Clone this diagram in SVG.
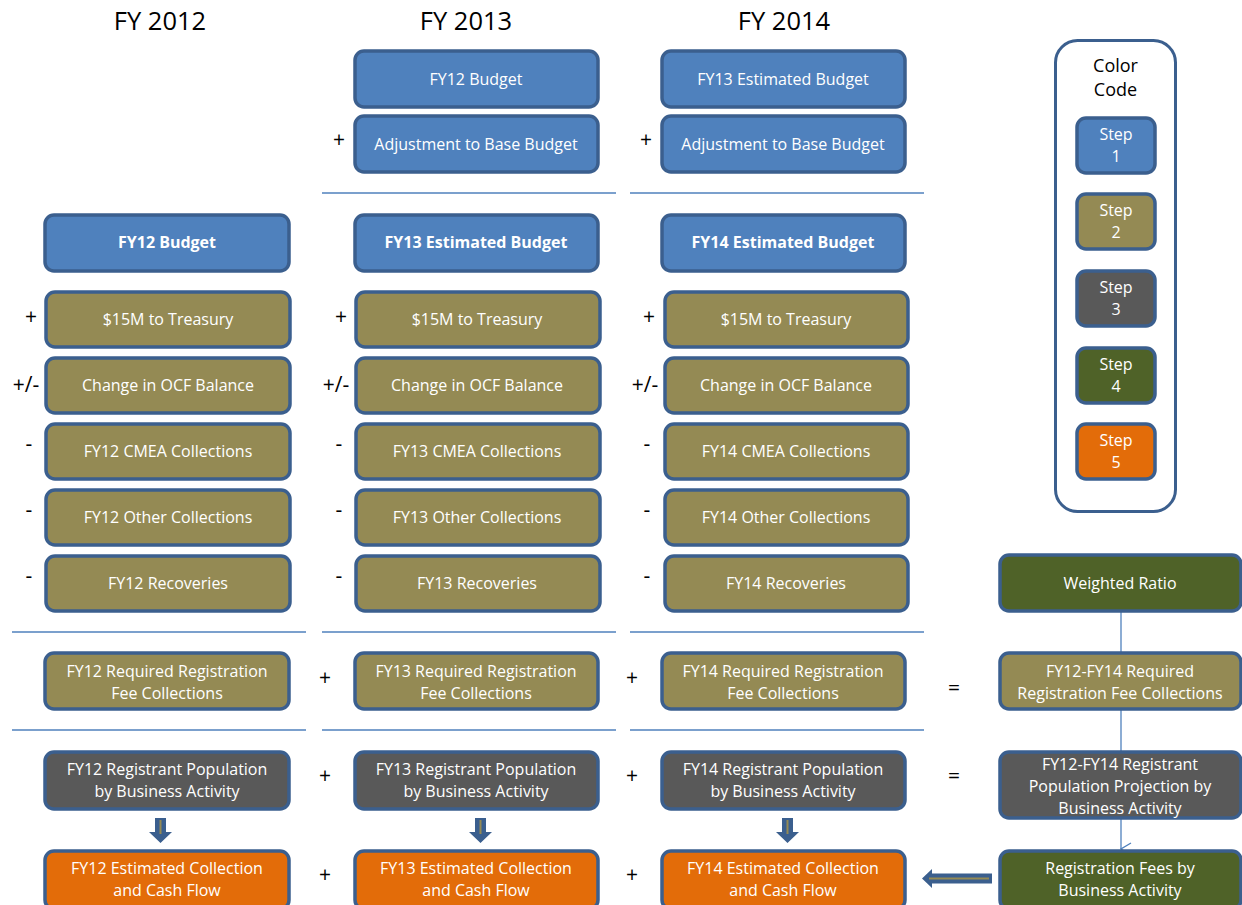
<svg xmlns="http://www.w3.org/2000/svg" width="1242" height="905" viewBox="0 0 1242 905">
  <style>
    text { font-family: "Open Sans", "Liberation Sans", sans-serif; }
    .box { stroke: #3B5F8E; stroke-width: 3.5; }
    .s1 { fill: #4F81BD; }
    .s2 { fill: #948A54; }
    .s3 { fill: #595959; }
    .s4 { fill: #4F6228; }
    .s5 { fill: #E36C09; }
    .lbl { fill: #FFFFFF; font-size: 16px; text-anchor: middle; }
    .bold { font-weight: bold; font-size: 16px; }
    .op { fill: #000000; font-size: 21px; text-anchor: middle; }
    .hdr { fill: #000000; font-size: 25.5px; text-anchor: middle; }
    .rule { stroke: #4F81BD; stroke-width: 1.3; }
    .conn { stroke: #4F81BD; stroke-width: 1.3; fill: none; }
    .barrow { fill: #3B5F8E; }
    .bcore { stroke: #948A54; stroke-width: 2; }
    .legtitle { fill: #000000; font-size: 18px; text-anchor: middle; }
  </style>
  <defs>
    <marker id="chev" viewBox="0 0 14 12" refX="7" refY="11" markerWidth="14" markerHeight="12" markerUnits="userSpaceOnUse" orient="auto-start-reverse">
      <path d="M1 1 L7 11 L13 1" fill="none" stroke="#4F81BD" stroke-width="1.3"/>
    </marker>
  </defs>

  <!-- Year headings -->
  <g id="headings">
    <text class="hdr" x="160" y="30">FY 2012</text>
    <text class="hdr" x="466" y="30">FY 2013</text>
    <text class="hdr" x="784" y="30">FY 2014</text>
  </g>

  <!-- Section rules and connectors -->
  <g id="connectors">
    <line class="rule" x1="322" y1="193" x2="616" y2="193"/>
    <line class="rule" x1="630" y1="193" x2="924" y2="193"/>
    <line class="rule" x1="12" y1="632" x2="306" y2="632"/>
    <line class="rule" x1="322" y1="632" x2="616" y2="632"/>
    <line class="rule" x1="630" y1="632" x2="924" y2="632"/>
    <line class="rule" x1="12" y1="730" x2="306" y2="730"/>
    <line class="rule" x1="322" y1="730" x2="616" y2="730"/>
    <line class="rule" x1="630" y1="730" x2="924" y2="730"/>
    <line class="conn" x1="1121" y1="611" x2="1121" y2="849" marker-end="url(#chev)"/>
    <!-- block arrows: population -> collection -->
    <g id="arrow-down-12">
      <polygon class="barrow" points="155,818 166,818 166,832 172,832 160.5,843 149,832 155,832"/>
      <line class="bcore" x1="160.5" y1="820" x2="160.5" y2="834"/>
    </g>
    <g id="arrow-down-13">
      <polygon class="barrow" points="475,818 486,818 486,832 492,832 480.5,843 469,832 475,832"/>
      <line class="bcore" x1="480.5" y1="820" x2="480.5" y2="834"/>
    </g>
    <g id="arrow-down-14">
      <polygon class="barrow" points="782,818 793,818 793,832 799,832 787.5,843 776,832 782,832"/>
      <line class="bcore" x1="787.5" y1="820" x2="787.5" y2="834"/>
    </g>
    <g id="arrow-left-fees">
      <polygon class="barrow" points="992,873.5 932,873.5 932,869 922,878.5 932,888 932,883.5 992,883.5"/>
      <line class="bcore" x1="929" y1="878.5" x2="989" y2="878.5"/>
    </g>
  </g>

  <!-- FY 2012 column -->
  <g id="fy12-budget"><rect class="box s1" x="45" y="215" width="244" height="56" rx="9"/><text class="lbl bold" x="167" y="248">FY12 Budget</text></g>
  <g id="fy12-treasury"><rect class="box s2" x="46" y="292" width="244" height="55" rx="9"/><text class="lbl" x="168" y="325">$15M to Treasury</text></g>
  <g id="fy12-ocf"><rect class="box s2" x="46" y="358" width="244" height="55" rx="9"/><text class="lbl" x="168" y="391">Change in OCF Balance</text></g>
  <g id="fy12-cmea"><rect class="box s2" x="46" y="424" width="244" height="55" rx="9"/><text class="lbl" x="168" y="457">FY12 CMEA Collections</text></g>
  <g id="fy12-other"><rect class="box s2" x="46" y="490" width="244" height="55" rx="9"/><text class="lbl" x="168" y="523">FY12 Other Collections</text></g>
  <g id="fy12-recoveries"><rect class="box s2" x="46" y="556" width="244" height="55" rx="9"/><text class="lbl" x="168" y="589">FY12 Recoveries</text></g>
  <g id="fy12-required"><rect class="box s2" x="45" y="653" width="244" height="56" rx="9"/><text class="lbl" x="167" y="677">FY12 Required Registration</text><text class="lbl" x="167" y="699">Fee Collections</text></g>
  <g id="fy12-population"><rect class="box s3" x="45" y="752" width="244" height="57" rx="9"/><text class="lbl" x="167" y="775">FY12 Registrant Population</text><text class="lbl" x="167" y="797">by Business Activity</text></g>
  <g id="fy12-collection"><rect class="box s5" x="45" y="851" width="244" height="58" rx="9"/><text class="lbl" x="167" y="874">FY12 Estimated Collection</text><text class="lbl" x="167" y="896">and Cash Flow</text></g>

  <!-- FY 2013 column -->
  <g id="fy13-base"><rect class="box s1" x="355" y="51" width="243" height="56" rx="9"/><text class="lbl" x="476" y="85">FY12 Budget</text></g>
  <g id="fy13-adjust"><rect class="box s1" x="355" y="116" width="243" height="56" rx="9"/><text class="lbl" x="476" y="150">Adjustment to Base Budget</text></g>
  <g id="fy13-budget"><rect class="box s1" x="355" y="215" width="243" height="56" rx="9"/><text class="lbl bold" x="476" y="248">FY13 Estimated Budget</text></g>
  <g id="fy13-treasury"><rect class="box s2" x="356" y="292" width="244" height="55" rx="9"/><text class="lbl" x="477" y="325">$15M to Treasury</text></g>
  <g id="fy13-ocf"><rect class="box s2" x="356" y="358" width="244" height="55" rx="9"/><text class="lbl" x="477" y="391">Change in OCF Balance</text></g>
  <g id="fy13-cmea"><rect class="box s2" x="356" y="424" width="244" height="55" rx="9"/><text class="lbl" x="477" y="457">FY13 CMEA Collections</text></g>
  <g id="fy13-other"><rect class="box s2" x="356" y="490" width="244" height="55" rx="9"/><text class="lbl" x="477" y="523">FY13 Other Collections</text></g>
  <g id="fy13-recoveries"><rect class="box s2" x="356" y="556" width="244" height="55" rx="9"/><text class="lbl" x="477" y="589">FY13 Recoveries</text></g>
  <g id="fy13-required"><rect class="box s2" x="355" y="653" width="243" height="56" rx="9"/><text class="lbl" x="476" y="677">FY13 Required Registration</text><text class="lbl" x="476" y="699">Fee Collections</text></g>
  <g id="fy13-population"><rect class="box s3" x="355" y="752" width="243" height="57" rx="9"/><text class="lbl" x="476" y="775">FY13 Registrant Population</text><text class="lbl" x="476" y="797">by Business Activity</text></g>
  <g id="fy13-collection"><rect class="box s5" x="355" y="851" width="243" height="58" rx="9"/><text class="lbl" x="476" y="874">FY13 Estimated Collection</text><text class="lbl" x="476" y="896">and Cash Flow</text></g>

  <!-- FY 2014 column -->
  <g id="fy14-base"><rect class="box s1" x="662" y="51" width="243" height="56" rx="9"/><text class="lbl" x="783" y="85">FY13 Estimated Budget</text></g>
  <g id="fy14-adjust"><rect class="box s1" x="662" y="116" width="243" height="56" rx="9"/><text class="lbl" x="783" y="150">Adjustment to Base Budget</text></g>
  <g id="fy14-budget"><rect class="box s1" x="662" y="215" width="243" height="56" rx="9"/><text class="lbl bold" x="783" y="248">FY14 Estimated Budget</text></g>
  <g id="fy14-treasury"><rect class="box s2" x="665" y="292" width="243" height="55" rx="9"/><text class="lbl" x="786" y="325">$15M to Treasury</text></g>
  <g id="fy14-ocf"><rect class="box s2" x="665" y="358" width="243" height="55" rx="9"/><text class="lbl" x="786" y="391">Change in OCF Balance</text></g>
  <g id="fy14-cmea"><rect class="box s2" x="665" y="424" width="243" height="55" rx="9"/><text class="lbl" x="786" y="457">FY14 CMEA Collections</text></g>
  <g id="fy14-other"><rect class="box s2" x="665" y="490" width="243" height="55" rx="9"/><text class="lbl" x="786" y="523">FY14 Other Collections</text></g>
  <g id="fy14-recoveries"><rect class="box s2" x="665" y="556" width="243" height="55" rx="9"/><text class="lbl" x="786" y="589">FY14 Recoveries</text></g>
  <g id="fy14-required"><rect class="box s2" x="662" y="653" width="243" height="56" rx="9"/><text class="lbl" x="783" y="677">FY14 Required Registration</text><text class="lbl" x="783" y="699">Fee Collections</text></g>
  <g id="fy14-population"><rect class="box s3" x="662" y="752" width="243" height="57" rx="9"/><text class="lbl" x="783" y="775">FY14 Registrant Population</text><text class="lbl" x="783" y="797">by Business Activity</text></g>
  <g id="fy14-collection"><rect class="box s5" x="662" y="851" width="243" height="58" rx="9"/><text class="lbl" x="783" y="874">FY14 Estimated Collection</text><text class="lbl" x="783" y="896">and Cash Flow</text></g>

  <!-- Combined three-year column -->
  <g id="weighted-ratio"><rect class="box s4" x="1000" y="555" width="241" height="56" rx="9"/><text class="lbl" x="1120" y="589">Weighted Ratio</text></g>
  <g id="total-required"><rect class="box s2" x="1000" y="653" width="241" height="56" rx="9"/><text class="lbl" x="1120" y="677">FY12-FY14 Required</text><text class="lbl" x="1120" y="699">Registration Fee Collections</text></g>
  <g id="total-population"><rect class="box s3" x="1000" y="752" width="241" height="66" rx="9"/><text class="lbl" x="1120" y="770">FY12-FY14 Registrant</text><text class="lbl" x="1120" y="792">Population Projection by</text><text class="lbl" x="1120" y="814">Business Activity</text></g>
  <g id="registration-fees"><rect class="box s4" x="1000" y="851" width="241" height="58" rx="9"/><text class="lbl" x="1120" y="874">Registration Fees by</text><text class="lbl" x="1120" y="896">Business Activity</text></g>

  <!-- Operators -->
  <g id="operators">
    <text class="op" x="339" y="147">+</text>
    <text class="op" x="646" y="147">+</text>
    <text class="op" x="31" y="324">+</text>
    <text class="op" x="341" y="324">+</text>
    <text class="op" x="649" y="324">+</text>
    <text class="op" x="26" y="392">+/-</text>
    <text class="op" x="336" y="392">+/-</text>
    <text class="op" x="645" y="392">+/-</text>
    <text class="op" x="29" y="451">-</text>
    <text class="op" x="339" y="451">-</text>
    <text class="op" x="647" y="451">-</text>
    <text class="op" x="29" y="517">-</text>
    <text class="op" x="339" y="517">-</text>
    <text class="op" x="647" y="517">-</text>
    <text class="op" x="29" y="583">-</text>
    <text class="op" x="339" y="583">-</text>
    <text class="op" x="647" y="583">-</text>
    <text class="op" x="325" y="685">+</text>
    <text class="op" x="632" y="685">+</text>
    <text class="op" x="954" y="695">=</text>
    <text class="op" x="325" y="783">+</text>
    <text class="op" x="632" y="783">+</text>
    <text class="op" x="954" y="783">=</text>
    <text class="op" x="325" y="882">+</text>
    <text class="op" x="632" y="882">+</text>
  </g>

  <!-- Legend -->
  <g id="legend">
    <rect x="1055.5" y="40.5" width="120" height="471" rx="22" fill="#FFFFFF" stroke="#3B5F8E" stroke-width="3"/>
    <text class="legtitle" x="1115.5" y="72">Color</text>
    <text class="legtitle" x="1115.5" y="96">Code</text>
    <g id="legend-step1"><rect class="box s1" x="1077" y="118" width="78" height="55" rx="9"/><text class="lbl" x="1116" y="140">Step</text><text class="lbl" x="1116" y="162">1</text></g>
    <g id="legend-step2"><rect class="box s2" x="1077" y="194" width="78" height="55" rx="9"/><text class="lbl" x="1116" y="216">Step</text><text class="lbl" x="1116" y="238">2</text></g>
    <g id="legend-step3"><rect class="box s3" x="1077" y="271" width="78" height="55" rx="9"/><text class="lbl" x="1116" y="293">Step</text><text class="lbl" x="1116" y="315">3</text></g>
    <g id="legend-step4"><rect class="box s4" x="1077" y="348" width="78" height="55" rx="9"/><text class="lbl" x="1116" y="370">Step</text><text class="lbl" x="1116" y="392">4</text></g>
    <g id="legend-step5"><rect class="box s5" x="1077" y="424" width="78" height="55" rx="9"/><text class="lbl" x="1116" y="446">Step</text><text class="lbl" x="1116" y="468">5</text></g>
  </g>
</svg>
